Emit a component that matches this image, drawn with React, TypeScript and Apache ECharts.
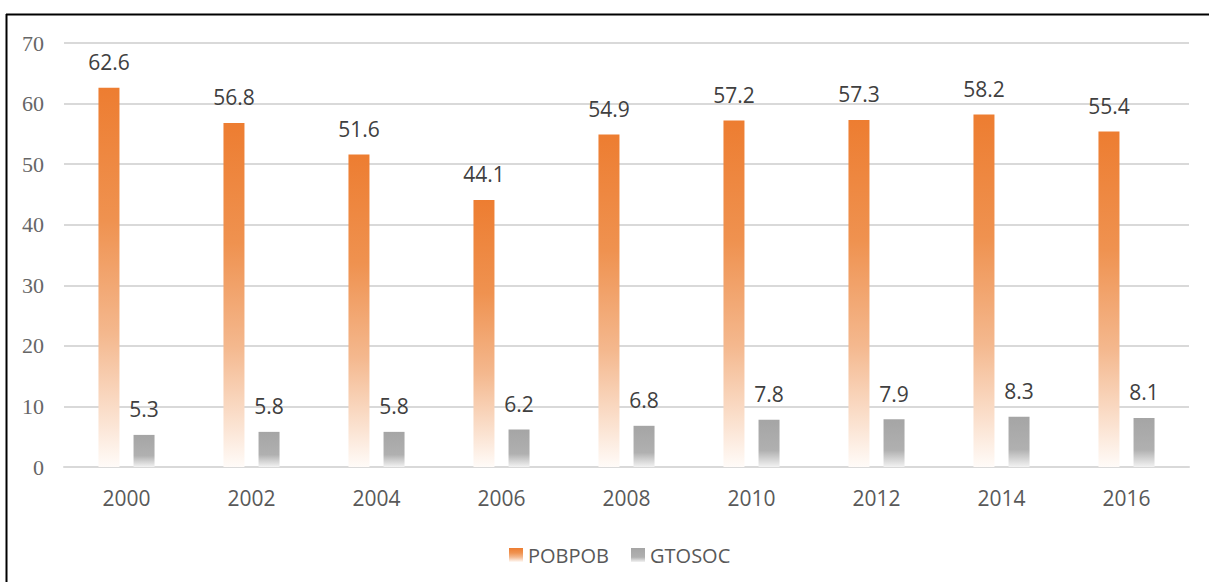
import React, { useEffect, useRef } from "react";
import * as echarts from "echarts";

const categories = ["2000", "2002", "2004", "2006", "2008", "2010", "2012", "2014", "2016"];
const pobpob = [62.6, 56.8, 51.6, 44.1, 54.9, 57.2, 57.3, 58.2, 55.4];
const gtosoc = [5.3, 5.8, 5.8, 6.2, 6.8, 7.8, 7.9, 8.3, 8.1];
const seriesNames = ["POBPOB", "GTOSOC"];
const yTicks = { min: 0, max: 70, interval: 10 };

const sans = "'Open Sans', 'Noto Sans', sans-serif";
const serif = "'Liberation Serif', 'DejaVu Serif', serif";

export default function App() {
  const ref = useRef<HTMLDivElement>(null);
  useEffect(() => {
    if (!ref.current) return;
    const chart = echarts.init(ref.current, null, { renderer: "svg" });
    const orangeGrad = new echarts.graphic.LinearGradient(0, 0, 0, 1, [
      { offset: 0, color: "#ED7D31" },
      { offset: 0.35, color: "#EF9250" },
      { offset: 0.65, color: "#F4B88E" },
      { offset: 0.88, color: "#FBE3D2" },
      { offset: 1, color: "#FFFBF8" },
    ]);
    const grayGrad = new echarts.graphic.LinearGradient(0, 0, 0, 1, [
      { offset: 0, color: "#A5A5A5" },
      { offset: 0.65, color: "#B0B0B0" },
      { offset: 1, color: "#F2F2F2" },
    ]);
    const labelStyle = {
      show: true,
      position: "top" as const,
      distance: 15,
      fontFamily: sans,
      fontSize: 21,
      color: "#404040",
    };
    chart.setOption({
      animation: false,
      backgroundColor: "#ffffff",
      graphic: [
        { type: "line", shape: { x1: 6, y1: 14.5, x2: 1209, y2: 14.5 }, style: { stroke: "#000", lineWidth: 2 } },
        { type: "line", shape: { x1: 6.5, y1: 14, x2: 6.5, y2: 582 }, style: { stroke: "#000", lineWidth: 2 } },
      ],
      grid: { left: 64, right: 20, top: 43, bottom: 115, containLabel: false },
      legend: {
        top: 540,
        left: 504,
        itemWidth: 14,
        itemHeight: 14,
        itemGap: 22,
        icon: "rect",
        textStyle: { fontFamily: sans, fontSize: 20, color: "#595959" },
        data: seriesNames,
      },
      xAxis: {
        type: "category",
        data: categories,
        axisLine: { lineStyle: { color: "#D9D9D9", width: 2 } },
        axisTick: { show: false },
        axisLabel: { fontFamily: sans, fontSize: 21, color: "#595959", margin: 20 },
      },
      yAxis: {
        type: "value",
        min: yTicks.min,
        max: yTicks.max,
        interval: yTicks.interval,
        axisLine: { show: false },
        axisTick: { show: false },
        splitLine: { lineStyle: { color: "#D9D9D9", width: 2 } },
        axisLabel: { fontFamily: serif, fontSize: 22, color: "#666666", margin: 20 },
      },
      series: [
        {
          name: seriesNames[0],
          type: "bar",
          data: pobpob,
          barWidth: 21,
          barGap: "67%",
          itemStyle: { color: orangeGrad },
          label: labelStyle,
        },
        {
          name: seriesNames[1],
          type: "bar",
          data: gtosoc,
          barWidth: 21,
          itemStyle: { color: grayGrad },
          label: labelStyle,
        },
      ],
    });
    return () => chart.dispose();
  }, []);
  return (
    <div
      ref={ref}
      style={{ position: "absolute", left: 0, top: 0, width: 1209, height: 582 }}
    />
  );
}
